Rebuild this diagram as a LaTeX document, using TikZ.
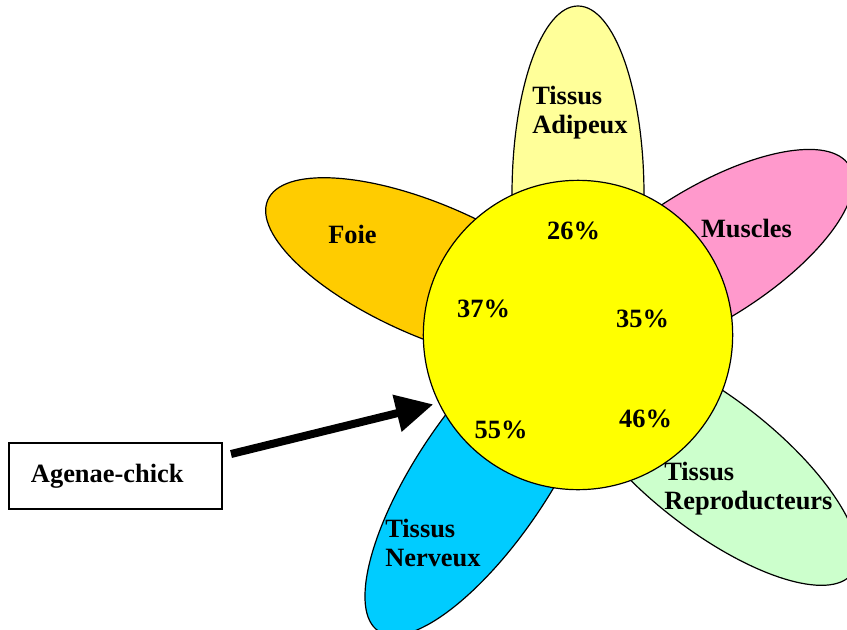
\documentclass[tikz,border=0pt]{standalone}
\usepackage{fontspec}
\setmainfont{Liberation Serif}
\usetikzlibrary{arrows.meta}

\definecolor{adipeux}{HTML}{FFFF99}
\definecolor{foie}{HTML}{FFCC00}
\definecolor{muscle}{HTML}{FF99CC}
\definecolor{repro}{HTML}{CCFFCC}
\definecolor{nerf}{HTML}{00CCFF}
\definecolor{coeur}{HTML}{FFFF00}

\newcommand{\petalfont}{\bfseries\fontsize{19.8}{22}\selectfont}

\tikzset{
    petal/.style={draw=black, line width=0.9pt},
    pct/.style={font=\petalfont, inner sep=0pt, anchor=base},
    tag/.style={font=\petalfont, inner sep=0pt, align=left, anchor=north west},
    pointer/.style={line width=6pt, -{Triangle[length=28pt,width=27pt]}, shorten >=4pt}
}

\begin{document}
\begin{tikzpicture}[x=0.75pt, y=-0.75pt]
            \clip (0,0) rectangle (847,629);

            % petals
            \foreach \cx/\cy/\rot/\len/\col in {578/195/90/189/adipeux, 431/271/-23.5/178/foie, 705/255.5/32/170/muscle, 712/464/-38/178/repro, 483/476/56/187/nerf}{
                \draw[petal, fill=\col, rotate around={\rot:(\cx,\cy)}] (\cx,\cy) ellipse [x radius=\len, y radius=66];
            }

            % heart of the flower
            \node[circle, petal, fill=coeur, minimum size=232pt, inner sep=0pt] (coeur) at (578,335) {};

            \foreach \v/\x/\y in {26/573.5/239, 37/483.5/317, 35/642.5/327, 46/645.5/427, 55/501/438}{
                \node[pct] (p\v) at (\x,\y) {\v\%};
            }

            \node[tag] (adip) at (532,85.5) {Tissus\\Adipeux};
            \node[tag, anchor=base] (foie) at (352.5,243) {Foie};
            \node[tag, anchor=base] (musc) at (746.5,237) {Muscles};
            \node[tag] (repr) at (664,462) {Tissus\\Reproducteurs};
            \node[tag] (nerv) at (385,519) {Tissus\\Nerveux};

            % source box and arrow
            \node[draw, line width=0.8pt, font=\petalfont, text width=126.75pt, inner xsep=16.5pt, minimum height=49.5pt, align=left] (chick) at (115.5,476) {Agenae-chick};
            \coordinate (tail) at (231,454);
            \draw[pointer] (tail) -- (coeur.206);
        \end{tikzpicture}
\end{document}
